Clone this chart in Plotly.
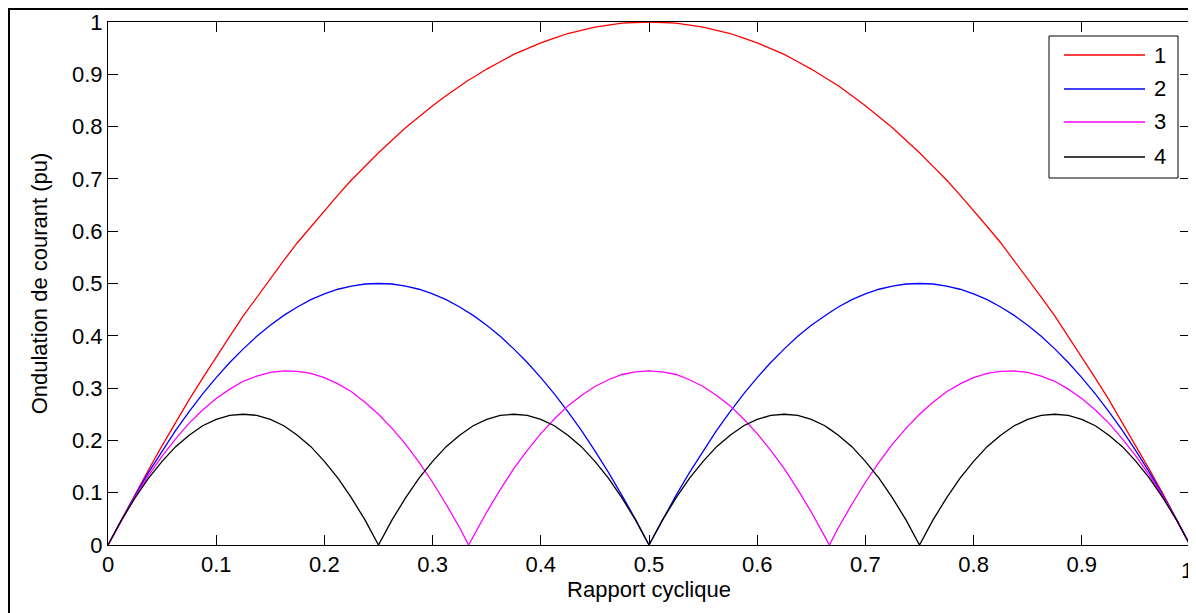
import plotly.graph_objects as go

# Duty cycle values (x)
rapport = [0, 0.0125, 0.025, 0.0375, 0.05, 0.0625, 0.075, 0.0875, 0.1, 0.1125, 0.125,
           0.1375, 0.15, 0.1625, 0.175, 0.1875, 0.2, 0.2125, 0.225, 0.2375, 0.25,
           0.2625, 0.275, 0.2875, 0.3, 0.3125, 0.325, 0.3333, 0.3375, 0.35, 0.3625,
           0.375, 0.3875, 0.4, 0.4125, 0.425, 0.4375, 0.45, 0.4625, 0.475, 0.4875, 0.5,
           0.5125, 0.525, 0.5375, 0.55, 0.5625, 0.575, 0.5875, 0.6, 0.6125, 0.625,
           0.6375, 0.65, 0.6625, 0.6667, 0.675, 0.6875, 0.7, 0.7125, 0.725, 0.7375,
           0.75, 0.7625, 0.775, 0.7875, 0.8, 0.8125, 0.825, 0.8375, 0.85, 0.8625,
           0.875, 0.8875, 0.9, 0.9125, 0.925, 0.9375, 0.95, 0.9625, 0.975, 0.9875, 1.0]

# Current ripple (pu) for 1, 2, 3 and 4 phases
ond_1 = [0, .049, .098, .144, .19, .234, .278, .319, .36, .399, .438,
         .474, .51, .544, .578, .609, .64, .669, .698, .724, .75,
         .774, .798, .819, .84, .859, .878, .889, .894, .91, .924,
         .938, .949, .96, .969, .978, .984, .99, .994, .998, .999, 1.0,
         .999, .998, .994, .99, .984, .978, .969, .96, .949, .938,
         .924, .91, .894, .889, .878, .859, .84, .819, .798, .774,
         .75, .724, .698, .669, .64, .609, .578, .544, .51, .474,
         .438, .399, .36, .319, .278, .234, .19, .144, .098, .049, 0]

ond_2 = [0, .049, .095, .139, .18, .219, .255, .289, .32, .349, .375,
         .399, .42, .439, .455, .469, .48, .489, .495, .499, .5,
         .499, .495, .489, .48, .469, .455, .444, .439, .42, .399,
         .375, .349, .32, .289, .255, .219, .18, .139, .095, .049, 0,
         .049, .095, .139, .18, .219, .255, .289, .32, .349, .375,
         .399, .42, .439, .444, .455, .469, .48, .489, .495, .499,
         .5, .499, .495, .489, .48, .469, .455, .439, .42, .399,
         .375, .349, .32, .289, .255, .219, .18, .139, .095, .049, 0]

ond_3 = [0, .048, .093, .133, .17, .203, .233, .258, .28, .298, .313,
         .323, .33, .333, .332, .328, .32, .308, .293, .273, .25,
         .223, .193, .158, .12, .078, .033, 0, .016, .063, .106,
         .146, .181, .213, .241, .266, .286, .303, .316, .326, .331, .333,
         .331, .326, .316, .303, .286, .266, .241, .213, .181, .146,
         .106, .063, .016, 0, .033, .078, .12, .158, .193, .223,
         .25, .273, .293, .308, .32, .328, .332, .333, .33, .323,
         .313, .298, .28, .258, .233, .203, .17, .133, .093, .048, 0]

ond_4 = [0, .048, .09, .128, .16, .188, .21, .228, .24, .248, .25,
         .248, .24, .228, .21, .188, .16, .128, .09, .048, 0,
         .048, .09, .128, .16, .188, .21, .222, .228, .24, .248,
         .25, .248, .24, .228, .21, .188, .16, .128, .09, .048, 0,
         .048, .09, .128, .16, .188, .21, .228, .24, .248, .25,
         .248, .24, .228, .222, .21, .188, .16, .128, .09, .048,
         0, .048, .09, .128, .16, .188, .21, .228, .24, .248,
         .25, .248, .24, .228, .21, .188, .16, .128, .09, .048, 0]

noms = ["1", "2", "3", "4"]
couleurs = ["#ff0000", "#0000ff", "#ff00ff", "#000000"]
series = [ond_1, ond_2, ond_3, ond_4]

x_ticks = [0, 0.1, 0.2, 0.3, 0.4, 0.5, 0.6, 0.7, 0.8, 0.9, 1.0]
x_ticktext = ["0", "0.1", "0.2", "0.3", "0.4", "0.5", "0.6", "0.7", "0.8", "0.9", ""]
x_last_label = "1"

# the page body adds an 8 px offset; figure size compensates for it
OFF = 8
W, H = 1196 - OFF, 613 - OFF
L, T = 108 - OFF, 22 - OFF
R = W - (1190 - OFF)
B = H - (545 - OFF)
pw, ph = W - L - R, H - T - B


def px(xs):
    return (xs - OFF - L) / pw


def py(ys):
    return 1 - (ys - OFF - T) / ph


fig = go.Figure()
for nom, col, ys in zip(noms, couleurs, series):
    fig.add_trace(go.Scatter(x=rapport, y=ys, mode="lines", name=nom, showlegend=False,
                             line=dict(color=col, width=1.3)))

font = dict(family="Liberation Sans, Arial, sans-serif", size=22, color="#000000")

axis_common = dict(range=[0, 1], ticks="inside", ticklen=10,
                   tickcolor="#000000", tickwidth=1, showline=True, linecolor="#000000",
                   linewidth=1, mirror="ticks", showgrid=False, zeroline=False,
                   tickfont=font, automargin=False, ticklabeloverflow="allow")

shapes = [dict(type="rect", xref="paper", yref="paper",
               x0=px(9), x1=1.2, y0=-0.3, y1=py(9),
               line=dict(color="#000000", width=2), fillcolor="rgba(0,0,0,0)"),
          dict(type="rect", xref="paper", yref="paper",
               x0=px(1049), x1=px(1178), y0=py(178), y1=py(36),
               line=dict(color="#000000", width=1), fillcolor="white", layer="above")]
annotations = [dict(text=x_last_label, xref="x", yref="paper", x=1.0, y=py(556),
                    xanchor="center", yanchor="top", xshift=-3, showarrow=False, font=font)]
legend_y = [55, 89, 122, 157]
for nom, col, ly in zip(noms, couleurs, legend_y):
    shapes.append(dict(type="line", xref="paper", yref="paper",
                       x0=px(1064), x1=px(1145), y0=py(ly), y1=py(ly),
                       line=dict(color=col, width=1.3), layer="above"))
    annotations.append(dict(text=nom, xref="paper", yref="paper", x=px(1152), y=py(ly),
                            xanchor="left", yanchor="middle", showarrow=False, font=font))

fig.update_layout(
    width=W, height=H,
    margin=dict(l=L, r=R, t=T, b=B),
    paper_bgcolor="white", plot_bgcolor="white",
    font=font,
    xaxis=dict(title=dict(text="Rapport cyclique", font=font, standoff=4),
               tickmode="array", tickvals=x_ticks, ticktext=x_ticktext, **axis_common),
    yaxis=dict(title=dict(text="Ondulation de courant (pu)", font=font, standoff=18),
               dtick=0.1, tick0=0, **axis_common),
    shapes=shapes,
    annotations=annotations,
)

fig.write_html("out.html")
